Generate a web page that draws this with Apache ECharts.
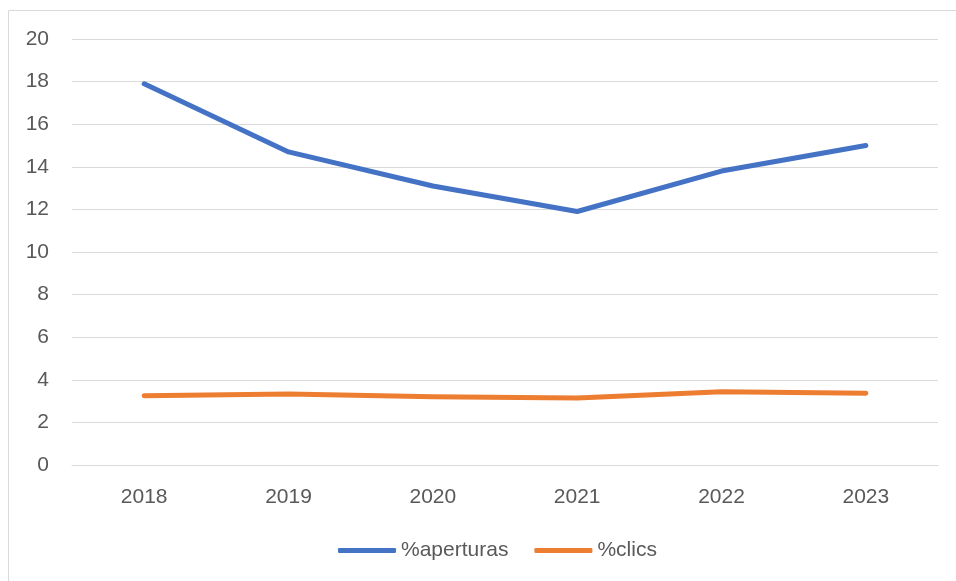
<!DOCTYPE html>
<html>
<head>
<meta charset="utf-8">
<script src="https://cdn.jsdelivr.net/npm/echarts@6/dist/echarts.min.js"></script>
<style>
  html, body { margin: 0; padding: 0; background: #fff; }
  #chart { width: 956px; height: 581px; }
</style>
</head>
<body>
<div id="chart"></div>
<script>
// valores
const years = ['2018', '2019', '2020', '2021', '2022', '2023'];
const aperturas = [17.9, 14.7, 13.1, 11.9, 13.8, 15.0];
const clics = [3.25, 3.33, 3.2, 3.15, 3.44, 3.37];

const chart = echarts.init(document.getElementById('chart'));
const font = 'Liberation Sans, Arial, sans-serif';

const option = {
  backgroundColor: '#fff',
  animation: false,
  grid: {
    left: 72,
    right: 18,
    top: 39,
    bottom: 116
  },
  // marco del gráfico (solo arriba e izquierda visibles)
  graphic: [
    { type: 'line', shape: { x1: 8.5, y1: 10.5, x2: 956, y2: 10.5 }, style: { stroke: '#d9d9d9', lineWidth: 1 } },
    { type: 'line', shape: { x1: 8.5, y1: 10.5, x2: 8.5, y2: 581 }, style: { stroke: '#d9d9d9', lineWidth: 1 } }
  ],
  legend: {
    bottom: 15,
    left: 333,
    itemWidth: 58,
    itemHeight: 5,
    itemGap: 26,
    icon: 'roundRect',
    textStyle: { color: '#595959', fontSize: 21, fontFamily: font },
    data: ['%aperturas', '%clics']
  },
  xAxis: {
    type: 'category',
    boundaryGap: true,
    data: years,
    axisLine: { lineStyle: { color: '#d9d9d9', width: 1 } },
    axisTick: { show: false },
    axisLabel: { color: '#595959', fontSize: 21, fontFamily: font, margin: 22 }
  },
  yAxis: {
    type: 'value',
    min: 0,
    max: 20,
    interval: 2,
    axisLine: { show: false },
    axisTick: { show: false },
    axisLabel: { color: '#595959', fontSize: 21, fontFamily: font, margin: 23 },
    splitLine: { lineStyle: { color: '#d9d9d9', width: 1 } }
  },
  series: [
    {
      name: '%aperturas',
      type: 'line',
      data: aperturas,
      symbol: 'none',
      itemStyle: { color: '#4472C4' },
      lineStyle: { color: '#4472C4', width: 5, cap: 'round', join: 'round' }
    },
    {
      name: '%clics',
      type: 'line',
      data: clics,
      symbol: 'none',
      itemStyle: { color: '#ED7D31' },
      lineStyle: { color: '#ED7D31', width: 5, cap: 'round', join: 'round' }
    }
  ]
};

option && chart.setOption(option);
</script>
</body>
</html>
